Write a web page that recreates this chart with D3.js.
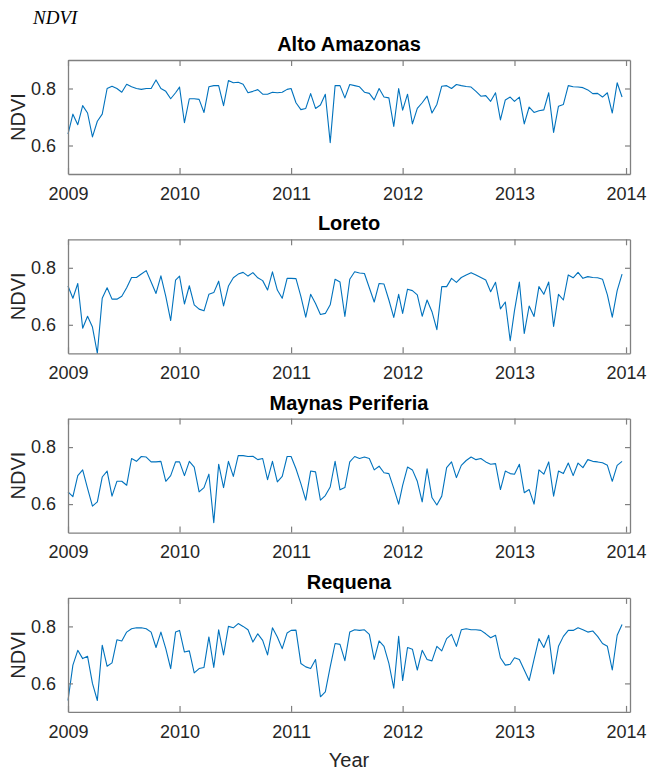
<!DOCTYPE html>
<html lang="en">
<head>
<meta charset="utf-8">
<title>NDVI</title>
<style>
  body { margin: 0; background: #fff; }
  svg { display: block; }
</style>
</head>
<body>
<script src="https://cdn.jsdelivr.net/npm/d3@7"></script>
<script>
// 16-day composites, start day-of-year
const years = [2009, 2010, 2011, 2012, 2013];
const doys = [1, 17, 33, 49, 65, 81, 97, 113, 129, 145, 161, 177, 193, 209, 225, 241, 257, 273, 289, 305, 321, 337, 353];

const regions = ["Alto Amazonas", "Loreto", "Maynas Periferia", "Requena"];

const altoAmazonas = [
  0.64, 0.71, 0.673, 0.74, 0.714, 0.63, 0.685, 0.71, 0.80, 0.808, 0.80, 0.787, 0.815, 0.806, 0.80, 0.797, 0.80, 0.80, 0.83, 0.80, 0.79, 0.764, 0.785,
  0.805, 0.68, 0.764, 0.764, 0.762, 0.716, 0.806, 0.81, 0.81, 0.74, 0.828, 0.82, 0.822, 0.815, 0.785, 0.79, 0.796, 0.78, 0.78, 0.787, 0.785, 0.787, 0.797,
  0.80, 0.75, 0.726, 0.73, 0.782, 0.73, 0.742, 0.78, 0.61, 0.81, 0.81, 0.767, 0.814, 0.81, 0.806, 0.787, 0.783, 0.76, 0.80, 0.77, 0.767, 0.667, 0.80,
  0.724, 0.78, 0.676, 0.73, 0.75, 0.773, 0.714, 0.744, 0.808, 0.81, 0.80, 0.814, 0.81, 0.807, 0.805, 0.79, 0.773, 0.775, 0.755, 0.785, 0.69, 0.76, 0.77,
  0.755, 0.77, 0.676, 0.735, 0.716, 0.722, 0.725, 0.785, 0.646, 0.738, 0.744, 0.81, 0.806, 0.805, 0.803, 0.795, 0.782, 0.783, 0.77, 0.785, 0.714, 0.82, 0.77
];
const loreto = [
  0.736, 0.693, 0.745, 0.588, 0.63, 0.592, 0.50, 0.693, 0.73, 0.69, 0.69, 0.70, 0.73, 0.766, 0.766, 0.778, 0.79, 0.75, 0.71, 0.772, 0.70, 0.615, 0.757,
  0.771, 0.673, 0.737, 0.67, 0.655, 0.649, 0.707, 0.713, 0.753, 0.666, 0.736, 0.765, 0.778, 0.784, 0.771, 0.783, 0.765, 0.755, 0.722, 0.786, 0.722, 0.693, 0.763,
  0.763, 0.762, 0.70, 0.627, 0.707, 0.675, 0.636, 0.64, 0.67, 0.76, 0.75, 0.629, 0.76, 0.786, 0.782, 0.78, 0.73, 0.68, 0.745, 0.743, 0.687, 0.626, 0.707,
  0.64, 0.725, 0.72, 0.705, 0.63, 0.687, 0.646, 0.583, 0.734, 0.734, 0.763, 0.749, 0.766, 0.775, 0.783, 0.775, 0.766, 0.757, 0.716, 0.749, 0.656, 0.68, 0.544,
  0.65, 0.75, 0.57, 0.666, 0.629, 0.734, 0.707, 0.75, 0.594, 0.707, 0.687, 0.775, 0.765, 0.784, 0.763, 0.769, 0.766, 0.765, 0.76, 0.705, 0.627, 0.72, 0.778
];
const maynasPeriferia = [
  0.643, 0.626, 0.70, 0.72, 0.655, 0.593, 0.608, 0.695, 0.716, 0.628, 0.68, 0.68, 0.666, 0.76, 0.75, 0.767, 0.765, 0.748, 0.748, 0.75, 0.68, 0.70, 0.748,
  0.748, 0.70, 0.75, 0.73, 0.643, 0.658, 0.705, 0.535, 0.74, 0.658, 0.75, 0.697, 0.77, 0.77, 0.767, 0.768, 0.756, 0.76, 0.686, 0.75, 0.678, 0.697, 0.767,
  0.767, 0.724, 0.672, 0.614, 0.716, 0.713, 0.614, 0.63, 0.66, 0.75, 0.65, 0.658, 0.748, 0.767, 0.76, 0.765, 0.76, 0.72, 0.733, 0.71, 0.707, 0.655, 0.60,
  0.666, 0.73, 0.72, 0.68, 0.608, 0.724, 0.623, 0.597, 0.628, 0.728, 0.748, 0.693, 0.736, 0.753, 0.765, 0.756, 0.76, 0.748, 0.74, 0.742, 0.651, 0.716, 0.707,
  0.705, 0.74, 0.64, 0.651, 0.60, 0.72, 0.705, 0.748, 0.628, 0.716, 0.707, 0.744, 0.70, 0.744, 0.728, 0.756, 0.75, 0.748, 0.745, 0.736, 0.68, 0.736, 0.75
];
const requena = [
  0.54, 0.664, 0.716, 0.687, 0.695, 0.60, 0.54, 0.734, 0.66, 0.672, 0.753, 0.749, 0.78, 0.792, 0.795, 0.795, 0.792, 0.78, 0.726, 0.78, 0.722, 0.652, 0.78,
  0.786, 0.71, 0.714, 0.637, 0.652, 0.656, 0.763, 0.656, 0.788, 0.70, 0.80, 0.795, 0.81, 0.80, 0.788, 0.745, 0.774, 0.751, 0.70, 0.795, 0.763, 0.722, 0.777,
  0.786, 0.787, 0.67, 0.658, 0.652, 0.684, 0.553, 0.57, 0.658, 0.74, 0.737, 0.68, 0.78, 0.788, 0.786, 0.788, 0.772, 0.684, 0.749, 0.73, 0.67, 0.583, 0.765,
  0.61, 0.726, 0.72, 0.647, 0.716, 0.684, 0.679, 0.73, 0.714, 0.757, 0.772, 0.73, 0.788, 0.792, 0.788, 0.788, 0.786, 0.774, 0.76, 0.769, 0.69, 0.664, 0.667,
  0.69, 0.684, 0.647, 0.61, 0.684, 0.757, 0.726, 0.769, 0.633, 0.73, 0.765, 0.786, 0.786, 0.795, 0.788, 0.78, 0.784, 0.765, 0.74, 0.73, 0.647, 0.769, 0.807
];
const series = [altoAmazonas, loreto, maynasPeriferia, requena];

const yTicks = [0.6, 0.8];
const xTickYears = [2009, 2010, 2011, 2012, 2013, 2014];

const width = 648, height = 774;
const left = 68, right = 630, panelH = 114;
const axisColor = "#808080", textColor = "#262626", lineColor = "#0072BD";

const dates = years.flatMap(y => doys.map(d => new Date(y, 0, d)));

const svg = d3.select("body").append("svg")
  .attr("width", width)
  .attr("height", height)
  .style("font-family", "'Liberation Sans', Arial, sans-serif");

const x = d3.scaleTime()
  .domain([new Date(2009, 0, 1), new Date(2014, 0, 14)])
  .range([left, right]);

const xTicks = xTickYears.map(y => new Date(y, 0, 1));

svg.append("text")
  .attr("x", 33)
  .attr("y", 24)
  .style("font-family", "'Liberation Serif', 'Times New Roman', serif")
  .style("font-style", "italic")
  .style("font-size", "19px")
  .attr("fill", "#000")
  .text("NDVI");

regions.forEach((name, i) => {
  const top = 60 + i * 179.3;
  const y = d3.scaleLinear().domain([0.5, 0.9]).range([top + panelH, top]);
  const g = svg.append("g");

  // line
  const line = d3.line()
    .x((d, j) => x(dates[j]))
    .y(d => y(d));
  g.append("path")
    .datum(series[i])
    .attr("fill", "none")
    .attr("stroke", lineColor)
    .attr("stroke-width", 1.1)
    .attr("stroke-linejoin", "round")
    .attr("d", line);

  // bottom axis
  const xb = g.append("g")
    .attr("transform", `translate(0,${top + panelH})`)
    .call(d3.axisBottom(x).tickValues(xTicks).tickSizeInner(-6).tickSizeOuter(0)
      .tickPadding(13).tickFormat(d3.timeFormat("%Y")));
  // top axis
  const xt = g.append("g")
    .attr("transform", `translate(0,${top})`)
    .call(d3.axisTop(x).tickValues(xTicks).tickSizeInner(-6).tickSizeOuter(0).tickFormat(""));
  // left axis
  const yl = g.append("g")
    .attr("transform", `translate(${left},0)`)
    .call(d3.axisLeft(y).tickValues(yTicks).tickSizeInner(-5).tickSizeOuter(0)
      .tickPadding(12).tickFormat(d3.format(".1f")));
  // right axis
  const yr = g.append("g")
    .attr("transform", `translate(${right},0)`)
    .call(d3.axisRight(y).tickValues(yTicks).tickSizeInner(-5).tickSizeOuter(0).tickFormat(""));

  [xb, xt, yl, yr].forEach(a => {
    a.selectAll(".domain").attr("stroke", axisColor).attr("stroke-width", 1.3);
    a.selectAll(".tick line").attr("stroke", axisColor).attr("stroke-width", 1.2);
    a.selectAll(".tick text").attr("fill", textColor).style("font-size", "18px");
  });
  xb.selectAll(".tick text").attr("dy", "0.71em");

  // title
  svg.append("text")
    .attr("x", (left + right) / 2)
    .attr("y", top - 9)
    .attr("text-anchor", "middle")
    .style("font-size", "20px")
    .style("font-weight", "bold")
    .attr("fill", "#000")
    .text(name);

  // y label
  svg.append("text")
    .attr("transform", `translate(25,${top + panelH / 2}) rotate(-90)`)
    .attr("text-anchor", "middle")
    .style("font-size", "20px")
    .attr("fill", textColor)
    .text("NDVI");
});

svg.append("text")
  .attr("x", (left + right) / 2)
  .attr("y", 767)
  .attr("text-anchor", "middle")
  .style("font-size", "20px")
  .attr("fill", textColor)
  .text("Year");
</script>
</body>
</html>
